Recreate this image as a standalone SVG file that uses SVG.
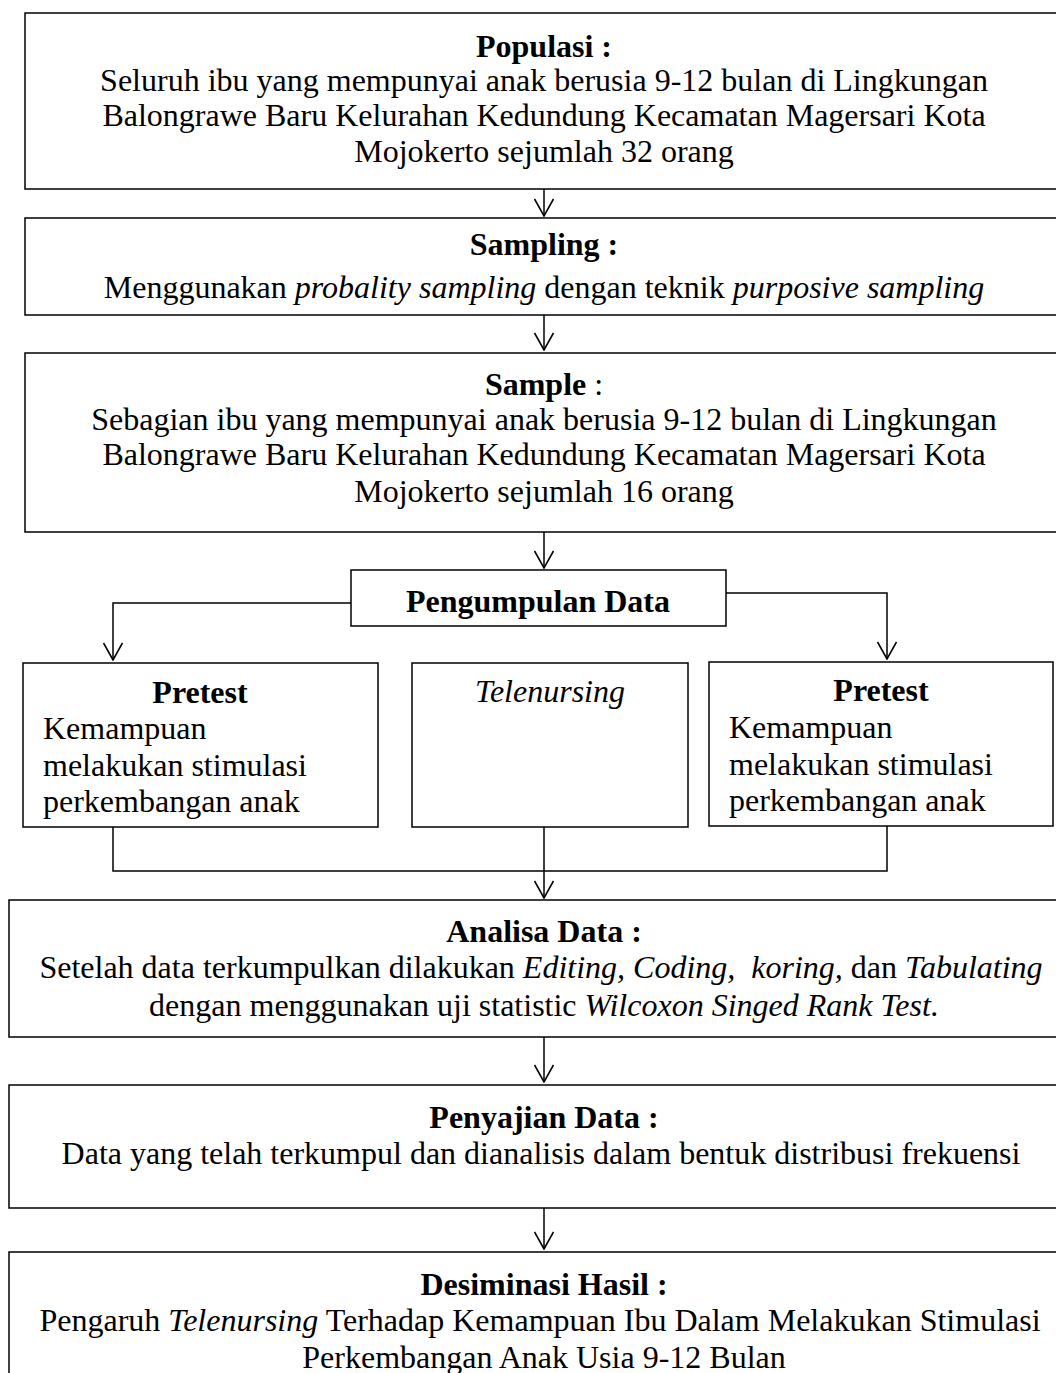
<svg xmlns="http://www.w3.org/2000/svg" width="1056" height="1373" viewBox="0 0 1056 1373">
<style>
.box{fill:#fff;stroke:#000;stroke-width:1.5}
.ln{fill:none;stroke:#000;stroke-width:1.5}
.t{font-family:"Liberation Serif","Times New Roman",serif;font-size:32px;fill:#000}
.c{text-anchor:middle}
.b{font-weight:bold}
.i{font-style:italic}
</style>
<defs>
<marker id="ah" viewBox="0 0 19 20" refX="18" refY="10" markerWidth="19" markerHeight="20" markerUnits="userSpaceOnUse" orient="auto">
<path d="M1,0.5 L18,10 L1,19.5" fill="none" stroke="#000" stroke-width="1.6"/>
</marker>
</defs>
<rect width="1056" height="1373" fill="#fff"/>

<g id="populasi">
<rect class="box" x="25" y="13" width="1040" height="176"/>
<text class="t c b" x="544" y="57">Populasi :</text>
<text class="t c" x="544" y="91">Seluruh ibu yang mempunyai anak berusia 9-12 bulan di Lingkungan</text>
<text class="t c" x="544" y="126">Balongrawe Baru Kelurahan Kedundung Kecamatan Magersari Kota</text>
<text class="t c" x="544" y="162">Mojokerto sejumlah 32 orang</text>
</g>

<g id="sampling">
<rect class="box" x="25" y="218" width="1040" height="97"/>
<text class="t c b" x="544" y="255">Sampling :</text>
<text class="t c" x="544" y="298">Menggunakan <tspan class="i">probality sampling</tspan> dengan teknik <tspan class="i">purposive sampling</tspan></text>
</g>

<g id="sample">
<rect class="box" x="25" y="353" width="1040" height="179"/>
<text class="t c" x="544" y="395"><tspan class="b">Sample</tspan> :</text>
<text class="t c" x="544" y="430">Sebagian ibu yang mempunyai anak berusia 9-12 bulan di Lingkungan</text>
<text class="t c" x="544" y="465">Balongrawe Baru Kelurahan Kedundung Kecamatan Magersari Kota</text>
<text class="t c" x="544" y="502">Mojokerto sejumlah 16 orang</text>
</g>

<g id="pengumpulan">
<rect class="box" x="351" y="570" width="375" height="56"/>
<text class="t c b" x="538" y="612">Pengumpulan Data</text>
</g>

<g id="pretest-left">
<rect class="box" x="23" y="663" width="355" height="164"/>
<text class="t c b" x="200" y="703">Pretest</text>
<text class="t" x="43" y="739">Kemampuan</text>
<text class="t" x="43" y="776">melakukan stimulasi</text>
<text class="t" x="43" y="812">perkembangan anak</text>
</g>

<g id="telenursing">
<rect class="box" x="412" y="663" width="276" height="164"/>
<text class="t c i" x="550" y="702">Telenursing</text>
</g>

<g id="pretest-right">
<rect class="box" x="709" y="662" width="344" height="164"/>
<text class="t c b" x="881" y="701">Pretest</text>
<text class="t" x="729" y="738">Kemampuan</text>
<text class="t" x="729" y="775">melakukan stimulasi</text>
<text class="t" x="729" y="811">perkembangan anak</text>
</g>

<g id="analisa">
<rect class="box" x="9" y="900" width="1070" height="137"/>
<text class="t c b" x="544" y="942">Analisa Data :</text>
<text class="t c" x="541" y="978" xml:space="preserve">Setelah data terkumpulkan dilakukan <tspan class="i">Editing, Coding,  koring,</tspan> dan <tspan class="i">Tabulating</tspan></text>
<text class="t c" x="544" y="1016">dengan menggunakan uji statistic <tspan class="i">Wilcoxon Singed Rank Test.</tspan></text>
</g>

<g id="penyajian">
<rect class="box" x="9" y="1085" width="1070" height="123"/>
<text class="t c b" x="544" y="1128">Penyajian Data :</text>
<text class="t c" x="541" y="1164">Data yang telah terkumpul dan dianalisis dalam bentuk distribusi frekuensi</text>
</g>

<g id="desiminasi">
<rect class="box" x="9" y="1252" width="1070" height="160"/>
<text class="t c b" x="544" y="1295">Desiminasi Hasil :</text>
<text class="t c" x="540" y="1331">Pengaruh <tspan class="i">Telenursing</tspan> Terhadap Kemampuan Ibu Dalam Melakukan Stimulasi</text>
<text class="t c" x="544" y="1368">Perkembangan Anak Usia 9-12 Bulan</text>
</g>

<g id="connectors">
<path class="ln" d="M544,189 V216" marker-end="url(#ah)"/>
<path class="ln" d="M544,315 V350" marker-end="url(#ah)"/>
<path class="ln" d="M544,532 V568" marker-end="url(#ah)"/>
<path class="ln" d="M351,603 H113 V660" marker-end="url(#ah)"/>
<path class="ln" d="M726,593 H887 V659" marker-end="url(#ah)"/>
<path class="ln" d="M113,827 V871 H887 V826"/>
<path class="ln" d="M544,827 V898" marker-end="url(#ah)"/>
<path class="ln" d="M544,1037 V1082" marker-end="url(#ah)"/>
<path class="ln" d="M544,1208 V1249" marker-end="url(#ah)"/>
</g>
</svg>
